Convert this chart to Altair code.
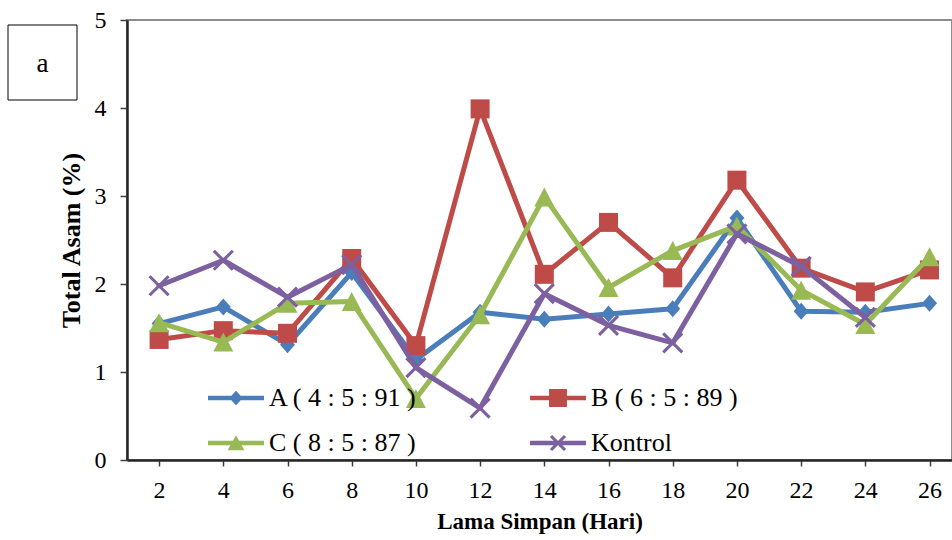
import altair as alt
import pandas as pd

# ---------------- data ----------------
days = [2, 4, 6, 8, 10, 12, 14, 16, 18, 20, 22, 24, 26]
series_names = ["A ( 4 : 5 : 91 )", "B ( 6 : 5 : 89 )", "C ( 8 : 5 : 87 )", "Kontrol"]
val_A = [1.55, 1.74, 1.31, 2.13, 1.14, 1.68, 1.60, 1.66, 1.72, 2.75, 1.69, 1.68, 1.78]
val_B = [1.37, 1.47, 1.44, 2.29, 1.30, 3.99, 2.11, 2.70, 2.07, 3.18, 2.18, 1.91, 2.16]
val_C = [1.56, 1.34, 1.78, 1.80, 0.70, 1.65, 2.99, 1.96, 2.38, 2.66, 1.93, 1.54, 2.31]
val_K = [1.98, 2.27, 1.85, 2.22, 1.05, 0.59, 1.89, 1.53, 1.33, 2.57, 2.20, 1.62]
y_ticks = [0, 1, 2, 3, 4, 5]
panel_label = "a"

# ---------------- styles ----------------
colors = ["#4A7EBB", "#BE4B48", "#98B954", "#7D60A0"]
FONT = "Liberation Serif, DejaVu Serif, serif"


def poly(pts):
    return "M" + "L".join(f"{x:.3f},{y:.3f}" for x, y in pts) + "Z"


def diamond(w, h):
    return poly([(0, -h), (w, 0), (0, h), (-w, 0)])


def square(s):
    return poly([(-s, -s), (s, -s), (s, s), (-s, s)])


def triangle(w, top, bot):
    return poly([(0, -top), (w, bot), (-w, bot)])


def xcross(a, h):
    arm1 = poly([(-a + h, -a - h), (a + h, a - h), (a - h, a + h), (-a - h, -a + h)])
    arm2 = poly([(-a + h, a + h), (-a - h, a - h), (a - h, -a - h), (a + h, -a + h)])
    return arm1 + arm2


def hline(t):
    return poly([(-1, -t), (1, -t), (1, t), (-1, t)])


# plot markers (unit = 10 px)
plot_shapes = [diamond(0.75, 0.85), square(0.95), triangle(1.0, 0.95, 0.95), xcross(0.95, 0.11)]
# legend symbols (unit = 28 px): line + marker
lt = 0.08
legend_shapes = [
    hline(lt) + diamond(0.24, 0.26),
    hline(lt) + square(0.32),
    hline(lt) + triangle(0.30, 0.28, 0.26),
    hline(lt) + xcross(0.25, 0.04),
]

values = [val_A, val_B, val_C, val_K]
frames = []
for name, vals in zip(series_names, values):
    frames.append(pd.DataFrame({"day": days[: len(vals)], "value": vals, "series": name}))
df_all = pd.concat(frames, ignore_index=True)

x_enc = alt.X(
    "day:Q",
    scale=alt.Scale(domain=[1, 26.7], nice=False, zero=False),
    axis=alt.Axis(values=days, title="Lama Simpan (Hari)", tickSize=6, labelPadding=12,
                  titlePadding=8, labelFlush=False, labelFont=FONT, titleFont=FONT,
                  titleFontSize=23),
)
y_enc = alt.Y(
    "value:Q",
    scale=alt.Scale(domain=[0, 5], nice=False, zero=True),
    axis=alt.Axis(values=y_ticks, title="Total Asam (%)", tickSize=7, labelPadding=14,
                  titlePadding=10, labelFlush=False, labelFont=FONT, titleFont=FONT,
                  titleFontSize=26),
)

layers = []
for i, (name, fr) in enumerate(zip(series_names, frames)):
    base = alt.Chart(fr)
    layers.append(
        base.mark_line(color=colors[i], strokeWidth=5, strokeJoin="round", strokeCap="round")
        .encode(x=x_enc, y=y_enc)
    )
    layers.append(
        base.mark_point(shape=plot_shapes[i], filled=True, size=400, color=colors[i],
                        opacity=1, strokeWidth=0)
        .encode(x=x_enc, y=y_enc)
    )

leg = alt.Legend(
    title=None, orient="none", legendX=81, legendY=350, direction="horizontal", columns=2,
    columnPadding=112, rowPadding=4, symbolSize=3136, symbolStrokeWidth=0, labelOffset=5,
    labelFont=FONT, labelFontSize=26, labelColor="black", labelLimit=300, padding=0,
    symbolOpacity=1,
)
legend_layer = (
    alt.Chart(df_all)
    .mark_point(filled=True, size=3136, strokeWidth=0, opacity=1)
    .encode(
        x=x_enc,
        y=y_enc,
        color=alt.Color("series:N", scale=alt.Scale(domain=series_names, range=colors), legend=leg),
        shape=alt.Shape("series:N", scale=alt.Scale(domain=series_names, range=legend_shapes), legend=leg),
    )
    .transform_filter("false")
)
layers.append(legend_layer)

# panel label box "a"
lab_df = pd.DataFrame({"t": [panel_label]})
box = alt.Chart(lab_df).mark_rect(fill="white", stroke="black", strokeWidth=1).encode(
    x=alt.value(-119), x2=alt.value(-50), y=alt.value(5), y2=alt.value(80)
)
box_text = alt.Chart(lab_df).mark_text(font=FONT, fontSize=27, color="black", baseline="alphabetic",
                                       align="center").encode(
    x=alt.value(-84.5), y=alt.value(52), text="t:N"
)
layers = [box, box_text] + layers

chart = (
    alt.layer(*layers)
    .properties(
        width=825,
        height=440,
        autosize=alt.AutoSizeParams(type="none"),
        padding={"left": 127, "top": 20, "right": 0, "bottom": 80},
    )
    .configure(font=FONT)
    .configure_view(stroke="#8c8c8c", strokeWidth=2)
    .configure_axis(
        grid=False,
        labelFont=FONT, labelFontSize=24, labelColor="black",
        titleFont=FONT, titleFontWeight="bold", titleColor="black",
        domainColor="#262626", domainWidth=2.5, tickColor="#404040", tickWidth=1.5,
    )
)

chart.save("out.html", embed_options={"renderer": "svg", "actions": False})
